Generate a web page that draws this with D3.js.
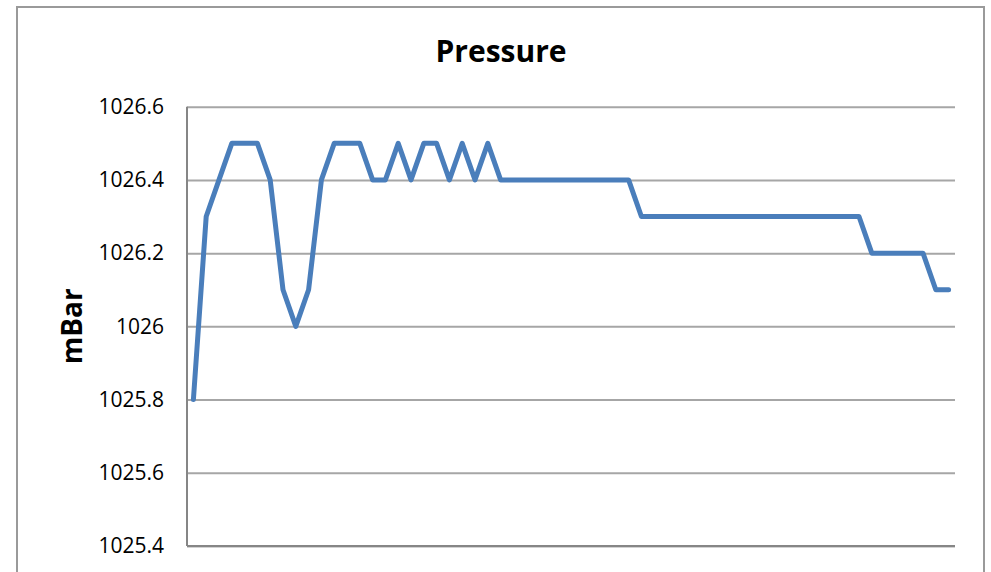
<!DOCTYPE html>
<html>
<head>
<meta charset="utf-8">
<script src="https://cdn.jsdelivr.net/npm/d3@7"></script>
<style>
  html, body { margin: 0; padding: 0; background: #fff; }
  svg { display: block; }
</style>
</head>
<body>
<svg id="chart" width="991" height="572"></svg>
<script>
// ---- data ----
const title = "Pressure";
const yAxisLabel = "mBar";
const categories = d3.range(1, 61);
const pressure = [
  1025.8, 1026.3, 1026.4, 1026.5, 1026.5, 1026.5, 1026.4, 1026.1, 1026.0, 1026.1,
  1026.4, 1026.5, 1026.5, 1026.5, 1026.4, 1026.4, 1026.5, 1026.4, 1026.5, 1026.5,
  1026.4, 1026.5, 1026.4, 1026.5, 1026.4, 1026.4, 1026.4, 1026.4, 1026.4, 1026.4,
  1026.4, 1026.4, 1026.4, 1026.4, 1026.4, 1026.3, 1026.3, 1026.3, 1026.3, 1026.3,
  1026.3, 1026.3, 1026.3, 1026.3, 1026.3, 1026.3, 1026.3, 1026.3, 1026.3, 1026.3,
  1026.3, 1026.3, 1026.3, 1026.2, 1026.2, 1026.2, 1026.2, 1026.2, 1026.1, 1026.1
];
const yTicks = [1025.4, 1025.6, 1025.8, 1026, 1026.2, 1026.4, 1026.6];

// ---- layout ----
const svg = d3.select("#chart");
const plot = { left: 187, right: 955, top: 106.7, bottom: 546 };

// outer chart border
svg.append("rect")
  .attr("x", 17).attr("y", 7)
  .attr("width", 967).attr("height", 620)
  .attr("fill", "#fff")
  .attr("stroke", "#9a9a9a")
  .attr("stroke-width", 2);

const x = d3.scalePoint()
  .domain(categories)
  .range([plot.left, plot.right])
  .padding(0.5);

const y = d3.scaleLinear()
  .domain([1025.4, 1026.6])
  .range([plot.bottom, plot.top]);

// gridlines + y labels via axis
const yAxis = d3.axisLeft(y)
  .tickValues(yTicks)
  .tickSize(-(plot.right - plot.left))
  .tickPadding(23)
  .tickFormat(d => d3.format("")(+d.toFixed(1)));

const gy = svg.append("g")
  .attr("transform", `translate(${plot.left},0)`)
  .call(yAxis);
gy.select(".domain").remove();
gy.selectAll(".tick line")
  .attr("stroke", "#a6a6a6")
  .attr("stroke-width", 2);
gy.selectAll(".tick text")
  .attr("fill", "#000")
  .style("font-family", "'Open Sans', sans-serif")
  .style("font-size", "21px");

// left axis line
svg.append("line")
  .attr("x1", plot.left).attr("x2", plot.left)
  .attr("y1", plot.top).attr("y2", plot.bottom)
  .attr("stroke", "#868686")
  .attr("stroke-width", 2);
// bottom axis line
svg.append("line")
  .attr("x1", plot.left).attr("x2", plot.right)
  .attr("y1", plot.bottom).attr("y2", plot.bottom)
  .attr("stroke", "#868686")
  .attr("stroke-width", 2);

// data line
const line = d3.line()
  .x((d, i) => x(categories[i]))
  .y(d => y(d));

svg.append("path")
  .datum(pressure)
  .attr("d", line)
  .attr("fill", "none")
  .attr("stroke", "#4a7ebb")
  .attr("stroke-width", 5)
  .attr("stroke-linejoin", "round")
  .attr("stroke-linecap", "round");

// title
svg.append("text")
  .attr("x", 501).attr("y", 62)
  .attr("text-anchor", "middle")
  .style("font-family", "'Open Sans', sans-serif")
  .style("font-weight", "bold")
  .style("font-size", "30px")
  .text(title);

// y-axis title
svg.append("text")
  .attr("transform", `translate(82,${(plot.top + plot.bottom) / 2}) rotate(-90)`)
  .attr("text-anchor", "middle")
  .style("font-family", "'Open Sans', sans-serif")
  .style("font-weight", "bold")
  .style("font-size", "28px")
  .text(yAxisLabel);
</script>
</body>
</html>
